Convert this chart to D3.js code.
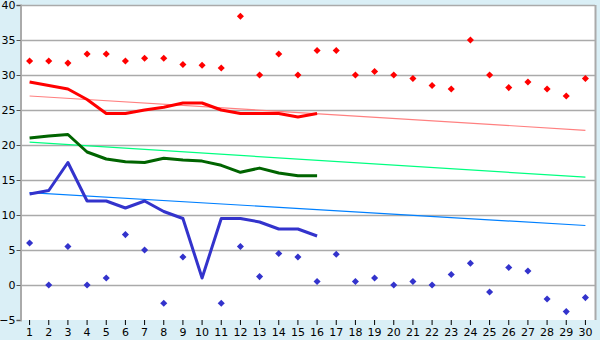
<!DOCTYPE html>
<html>
<head>
<meta charset="utf-8">
<script src="https://cdn.jsdelivr.net/npm/d3@7"></script>
<style>
  body { margin: 0; background: #daeff6; }
  text { font-family: "DejaVu Sans", Verdana, sans-serif; font-size: 11px; fill: #000; }
</style>
</head>
<body>
<script>
// days of the month
var days = d3.range(1, 31)
var yTicks = [-5, 0, 5, 10, 15, 20, 25, 30, 35, 40]

// daily extremes (diamonds)
var maxPoints = [32, 32, 31.7, 33, 33, 32, 32.4, 32.4, 31.5, 31.4, 31, 38.4, 30, 33, 30, 33.5, 33.5, 30, 30.5, 30,
                 29.5, 28.5, 28, 35, 30, 28.2, 29, 28, 27, 29.5]
var minPoints = [6, 0, 5.5, 0, 1, 7.2, 5, -2.6, 4, null, -2.6, 5.5, 1.2, 4.5, 4, 0.5, 4.4, 0.5, 1, 0,
                 0.5, 0, 1.5, 3.1, -1, 2.5, 2, -2, -3.8, -1.8]

// running lines, days 1-16
var highLine = [29, 28.5, 28, 26.5, 24.5, 24.5, 25, 25.4, 26, 26, 25, 24.5, 24.5, 24.5, 24, 24.5]
var meanLine = [21, 21.3, 21.5, 19, 18, 17.6, 17.5, 18.1, 17.85, 17.7, 17.1, 16.1, 16.7, 16, 15.6, 15.6]
var lowLine  = [13, 13.5, 17.5, 12, 12, 11, 12, 10.5, 9.5, 1, 9.5, 9.5, 9, 8, 8, 7]

// trend lines, value at day 1 and day 30
var highTrend = [27, 22.1]
var meanTrend = [20.4, 15.4]
var lowTrend  = [13.2, 8.5]

var width = 600, height = 340
var margin = {top: 5, right: 5, bottom: 20, left: 20}

var svg = d3.select("body").append("svg")
    .attr("width", width)
    .attr("height", height)

var x = d3.scaleBand()
    .domain(days)
    .range([margin.left, width - margin.right])

var y = d3.scaleLinear()
    .domain([-5, 40])
    .range([height - margin.bottom, margin.top])

var cx = function(d){ return x(d) + x.bandwidth() / 2 }

// plot background
svg.append("rect")
    .attr("x", margin.left)
    .attr("y", margin.top)
    .attr("width", width - margin.left - margin.right)
    .attr("height", height - margin.top - margin.bottom)
    .attr("fill", "#fff")

// grid
svg.append("g")
    .selectAll("line")
    .data(yTicks.filter(function(d){ return d > -5 }))
    .enter().append("line")
    .attr("x1", margin.left)
    .attr("x2", width - margin.right)
    .attr("y1", function(d){ return Math.round(y(d)) + 0.5 })
    .attr("y2", function(d){ return Math.round(y(d)) + 0.5 })
    .attr("stroke", "#aaa")
    .attr("stroke-width", 1.5)

// right border
svg.append("line")
    .attr("x1", width - margin.right + 0.5)
    .attr("x2", width - margin.right + 0.5)
    .attr("y1", margin.top)
    .attr("y2", height - margin.bottom)
    .attr("stroke", "#aaa")
    .attr("stroke-width", 2)

// y axis
var yAxis = svg.append("g")
    .attr("transform", "translate(" + (margin.left + 0.5) + ",0)")
    .call(d3.axisLeft(y).tickValues(yTicks).tickSize(4).tickPadding(1))
yAxis.select(".domain").attr("stroke", "#aaa").attr("stroke-width", 2)
yAxis.selectAll(".tick line").attr("stroke", "#555")
yAxis.selectAll("text").style("font-size", "11px").attr("fill", "#000")

// x axis
var xAxis = svg.append("g")
    .attr("transform", "translate(0," + (height - margin.bottom) + ")")
    .call(d3.axisBottom(x).tickSize(5).tickPadding(3).tickSizeOuter(0))
xAxis.select(".domain").remove()
xAxis.selectAll(".tick line").attr("stroke", "#000")
xAxis.selectAll("text").style("font-size", "11px").attr("fill", "#000")

// trend lines
var trends = [
    {v: highTrend, c: "#ff8080"},
    {v: meanTrend, c: "#00ff80"},
    {v: lowTrend,  c: "#0080ff"}
]
svg.append("g")
    .selectAll("line")
    .data(trends)
    .enter().append("line")
    .attr("x1", cx(days[0]))
    .attr("x2", cx(days[days.length - 1]))
    .attr("y1", function(d){ return y(d.v[0]) })
    .attr("y2", function(d){ return y(d.v[1]) })
    .attr("stroke", function(d){ return d.c })
    .attr("stroke-width", 1.2)

// running lines
var line = d3.line()
    .x(function(d, i){ return cx(days[i]) })
    .y(function(d){ return y(d) })

var series = [
    {v: highLine, c: "#ff0000"},
    {v: meanLine, c: "#006400"},
    {v: lowLine,  c: "#3333cc"}
]
svg.append("g")
    .selectAll("path")
    .data(series)
    .enter().append("path")
    .attr("d", function(d){ return line(d.v) })
    .attr("fill", "none")
    .attr("stroke", function(d){ return d.c })
    .attr("stroke-width", 3)
    .attr("stroke-linejoin", "round")

// diamonds
var diamond = d3.symbol().type(d3.symbolDiamond2 || d3.symbolDiamond).size(32)

function drawPoints(vals, color){
    svg.append("g")
        .selectAll("path")
        .data(vals.map(function(v, i){ return {day: days[i], v: v} }).filter(function(d){ return d.v !== null }))
        .enter().append("path")
        .attr("d", diamond)
        .attr("transform", function(d){ return "translate(" + cx(d.day) + "," + y(d.v) + ")" })
        .attr("fill", color)
}
drawPoints(maxPoints, "#ff0000")
drawPoints(minPoints, "#3333cc")
</script>
</body>
</html>
